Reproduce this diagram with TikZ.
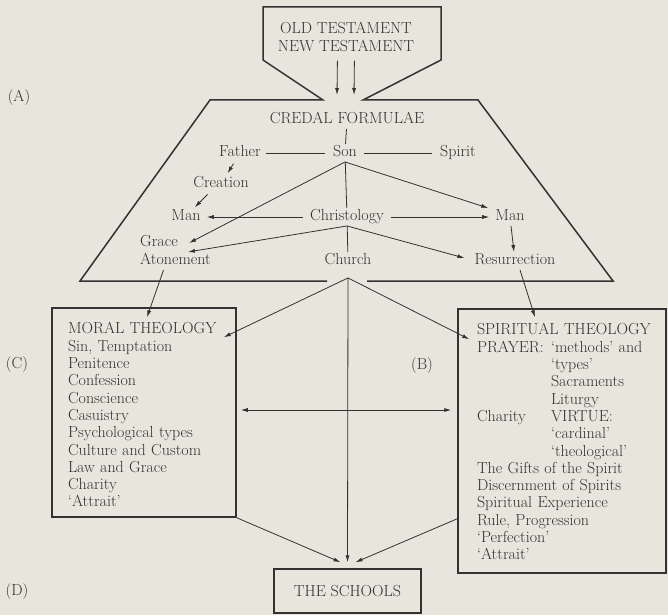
\documentclass[tikz,border=0pt]{standalone}
\usetikzlibrary{arrows.meta}
\definecolor{paper}{RGB}{231,229,220}
\definecolor{ink}{RGB}{50,50,50}
\begin{document}
\begin{tikzpicture}[
 x=1pt, y=-1pt,
 color=ink,
 >={Latex[length=7pt,width=4pt]},
 font=\fontsize{16}{17.3}\selectfont,
 word/.style={inner sep=2pt,text height=10.5pt,text depth=3pt},
 link/.style={line width=0.8pt},
 outline/.style={line width=1.5pt,line join=miter},
 panel/.style={draw,line width=1.5pt,align=left}
]
\fill [paper] (0,0) rectangle (668,615);
\useasboundingbox (0,0) rectangle (668,615);
% the two outlines
\draw [outline] (327,281) -- (80,281) -- (210,100) -- (323,100) -- (263,60) -- (263,7)
  -- (441,7) -- (441,60) -- (363,100) -- (478,100) -- (613,281) -- (367,281);
\node (testament) [inner sep=2pt,align=center] at (346,37) {OLD TESTAMENT\\NEW TESTAMENT};
\coordinate (opening) at (345.5,95);
\draw [link,->,shorten <=7pt] ([xshift=-8.5pt]testament.south) -- ([xshift=-8.5pt]opening);
\draw [link,->,shorten <=7pt] ([xshift=8.5pt]testament.south) -- ([xshift=8.5pt]opening);
% side letters
\node (lab-a) [word] at (19,98) {(A)};
\node (lab-c) [word] at (17,365) {(C)};
\node (lab-b) [word] at (422,366) {(B)};
\node (lab-d) [word] at (17,592) {(D)};
% credal part
\node (credal) [word] at (347,120) {CREDAL FORMULAE};
\node (father) [word] at (240,153) {Father};
\node (son) [word] at (345,153) {Son};
\node (spirit) [word] at (458,153) {Spirit};
\node (creation) [word] at (221,184) {Creation};
\node (man-left) [word] at (186,217) {Man};
\node (christology) [word] at (347,217) {Christology};
\node (man-right) [word] at (510,217) {Man};
\node (grace) [word,anchor=west] at (138,243) {Grace};
\node (atonement) [word,anchor=west] at (138,261) {Atonement};
\node (church) [word] at (348,261) {Church};
\node (resurrection) [word] at (515,261) {Resurrection};
\draw [link] (credal) -- (son);
\draw [link,shorten <=3pt,shorten >=6pt] (father) -- (son);
\draw [link,shorten <=5pt,shorten >=6pt] (son) -- (spirit);
\draw [link,->,shorten <=2pt,shorten >=2pt] (father) -- (creation);
\draw [link,->,shorten <=2pt,shorten >=1pt] ([xshift=-12pt]creation.south) -- ([xshift=8pt]man-left.north);
\draw [link] (son) -- (christology);
\draw [link,->] (son.south) -- ([xshift=9pt]grace.east);
\draw [link,->] (son.south) -- ([xshift=-5pt]man-right.north west);
\draw [link,->,shorten <=5pt,shorten >=4pt] (christology) -- (man-left);
\draw [link,->,shorten <=5pt,shorten >=4pt] (christology) -- (man-right);
\draw [link,->] (christology.south) -- ([xshift=8pt]grace.south east);
\draw [link] (christology) -- (church);
\draw [link,->] (christology.south) -- ([xshift=-8pt,yshift=3pt]resurrection.west);
\draw [link,->] (man-right) -- (resurrection);
% the two theologies
\node (moral-box) [panel,inner xsep=16pt,text width=152pt,minimum height=209pt] at (144,412.5) {%
MORAL THEOLOGY\rule{0pt}{16pt}\\
Sin, Temptation\\
Penitence\\
Confession\\
Conscience\\
Casuistry\\
Psychological types\\
Culture and Custom\\
Law and Grace\\
Charity\\
`Attrait'};
\node (spiritual-box) [panel,inner xsep=19pt,text width=170pt,minimum height=264pt] at (562,441) {%
\begin{tabular}{@{}p{74pt}@{}l@{}}
\multicolumn{2}{@{}l@{}}{SPIRITUAL THEOLOGY\rule{0pt}{18pt}}\\
PRAYER: & `methods' and\\
 & `types'\\
 & Sacraments\\
 & Liturgy\\
Charity & VIRTUE:\\
 & `cardinal'\\
 & `theological'\\
\multicolumn{2}{@{}l@{}}{The Gifts of the Spirit}\\
\multicolumn{2}{@{}l@{}}{Discernment of Spirits}\\
\multicolumn{2}{@{}l@{}}{Spiritual Experience}\\
\multicolumn{2}{@{}l@{}}{Rule, Progression}\\
\multicolumn{2}{@{}l@{}}{`Perfection'}\\
\multicolumn{2}{@{}l@{}}{`Attrait'}
\end{tabular}};
\node (schools-box) [panel,minimum width=147pt,minimum height=44pt] at (347.5,591) {THE SCHOOLS};
\draw [link,->] ([xshift=-12pt]atonement.south) -- ([xshift=3pt,yshift=-10pt]moral-box.north);
\draw [link,->] ([xshift=5pt]resurrection.south) -- ([xshift=-27pt,yshift=-9pt]spiritual-box.north);
\draw [link,->] ([yshift=-8pt]church.south) -- ([xshift=-13pt,yshift=-30pt]moral-box.north east);
\draw [link,->] ([yshift=-8pt]church.south) -- ([xshift=12pt,yshift=-31pt]spiritual-box.north west);
\draw [link,->] ([yshift=-8pt]church.south) -- ([yshift=6pt]schools-box.north);
\draw [link,<->,shorten <=4pt,shorten >=6pt] ([yshift=2.5pt]moral-box.east) -- ([yshift=2.5pt]moral-box.east -| spiritual-box.west);
\draw [link,->] (moral-box.south east) -- ([xshift=-7pt,yshift=6pt]schools-box.north);
\draw [link,->] ([yshift=55pt]spiritual-box.south west) -- ([xshift=8pt,yshift=6pt]schools-box.north);
\end{tikzpicture}
\end{document}
